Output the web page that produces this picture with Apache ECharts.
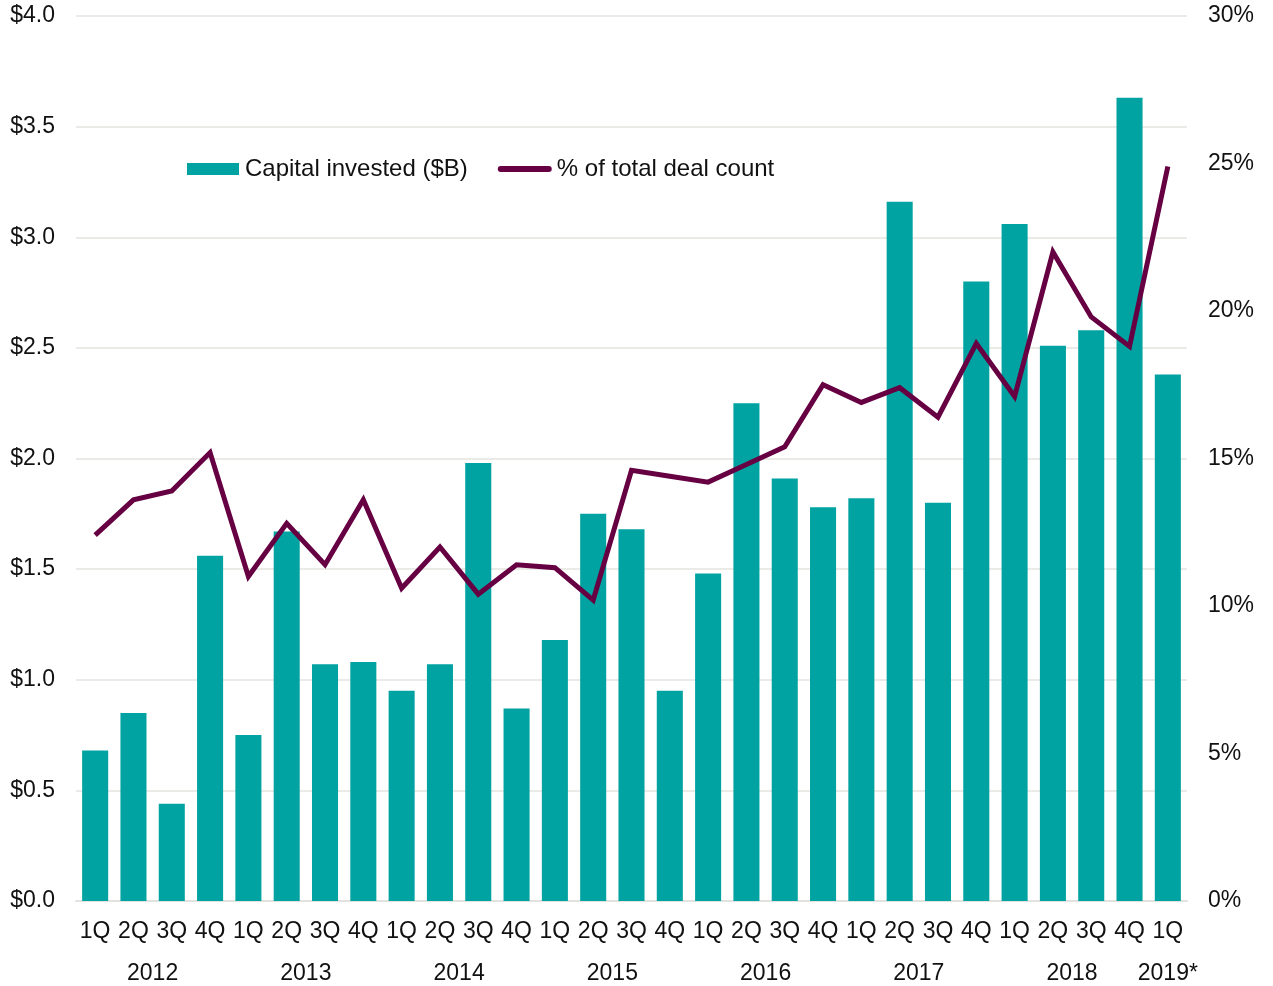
<!DOCTYPE html>
<html>
<head>
<meta charset="utf-8">
<title>Capital invested and share of deal count</title>
<script src="https://cdn.jsdelivr.net/npm/echarts@6/dist/echarts.min.js"></script>
<style>
  html, body { margin: 0; padding: 0; background: #ffffff; }
  #chart { width: 1273px; height: 986px; }
</style>
</head>
<body>
<div id="chart"></div>
<script>
// Quarterly labels, 1Q 2012 through 1Q 2019
const quarters = [
  '1Q','2Q','3Q','4Q', '1Q','2Q','3Q','4Q', '1Q','2Q','3Q','4Q',
  '1Q','2Q','3Q','4Q', '1Q','2Q','3Q','4Q', '1Q','2Q','3Q','4Q',
  '1Q','2Q','3Q','4Q', '1Q'
];

// Year groups and how many quarters each spans
const years = ['2012', '2013', '2014', '2015', '2016', '2017', '2018', '2019*'];
const quartersPerYear = [4, 4, 4, 4, 4, 4, 4, 1];

// Capital invested, $B
const capitalInvested = [
  0.68, 0.85, 0.44, 1.56, 0.75, 1.67, 1.07, 1.08, 0.95, 1.07, 1.98, 0.87,
  1.18, 1.75, 1.68, 0.95, 1.48, 2.25, 1.91, 1.78, 1.82, 3.16, 1.80, 2.80,
  3.06, 2.51, 2.58, 3.63, 2.38
];

// Share of total deal count, %
const dealCountShare = [
  12.4, 13.6, 13.9, 15.2, 11.0, 12.8, 11.4, 13.6, 10.6, 12.0, 10.4, 11.4,
  11.3, 10.2, 14.6, 14.4, 14.2, 14.8, 15.4, 17.5, 16.9, 17.4, 16.4, 18.9,
  17.1, 22.0, 19.8, 18.8, 24.9
];

// Left axis ticks ($B) and right axis ticks (%)
const leftTicks = { min: 0, max: 4, step: 0.5 };
const rightTicks = { min: 0, max: 30, step: 5 };

// Centre of each year group on a 0..N value scale spanning the categories
const yearCenters = [];
(function () {
  let start = 0;
  quartersPerYear.forEach(function (n) {
    yearCenters.push(start + n / 2);
    start += n;
  });
})();

const FONT = '"Liberation Sans", Arial, Helvetica, sans-serif';
const TEAL = '#00A3A1';
const PLUM = '#660042';
const TEXT = '#111111';
const AXIS_FONT_SIZE = 23;

const chart = echarts.init(document.getElementById('chart'), null, { renderer: 'canvas' });

chart.setOption({
  animation: false,
  backgroundColor: '#ffffff',
  textStyle: { fontFamily: FONT, color: TEXT },
  grid: { left: 76, right: 86, top: 16, bottom: 85, containLabel: false },
  legend: {
    left: 187,
    top: 157,
    padding: 0,
    itemWidth: 54,
    itemHeight: 12,
    itemGap: 30,
    textStyle: { fontFamily: FONT, fontSize: 24, color: TEXT },
    data: [
      { name: 'Capital invested ($B)', icon: 'path://M0,0 L52,0 L52,12 L0,12 Z' },
      { name: '% of total deal count', icon: 'path://M3,0 L51,0 A3,3 0 0 1 51,6 L3,6 A3,3 0 0 1 3,0 Z' }
    ]
  },
  xAxis: [
    {
      type: 'category',
      data: quarters,
      boundaryGap: true,
      axisLine: { show: true, lineStyle: { color: '#E2E2DE', width: 2 } },
      axisTick: { show: false },
      axisLabel: {
        interval: 0,
        margin: 19,
        fontFamily: FONT,
        fontSize: AXIS_FONT_SIZE,
        color: TEXT
      }
    },
    {
      type: 'value',
      position: 'bottom',
      min: 0,
      max: quarters.length,
      axisLine: { show: false },
      axisTick: { show: false },
      splitLine: { show: false },
      axisLabel: {
        customValues: yearCenters,
        margin: 61,
        fontFamily: FONT,
        fontSize: AXIS_FONT_SIZE,
        color: TEXT,
        formatter: function (v) {
          const i = yearCenters.indexOf(v);
          return i >= 0 ? years[i] : '';
        }
      }
    }
  ],
  yAxis: [
    {
      type: 'value',
      min: leftTicks.min,
      max: leftTicks.max,
      interval: leftTicks.step,
      axisLine: { show: false },
      axisTick: { show: false },
      splitLine: { show: true, lineStyle: { color: '#EAEAE6', width: 2 } },
      axisLabel: {
        margin: 21,
        fontFamily: FONT,
        fontSize: AXIS_FONT_SIZE,
        color: TEXT,
        formatter: function (v) { return '$' + v.toFixed(1); }
      }
    },
    {
      type: 'value',
      min: rightTicks.min,
      max: rightTicks.max,
      interval: rightTicks.step,
      position: 'right',
      axisLine: { show: false },
      axisTick: { show: false },
      splitLine: { show: false },
      axisLabel: {
        margin: 21,
        fontFamily: FONT,
        fontSize: AXIS_FONT_SIZE,
        color: TEXT,
        formatter: function (v) { return v + '%'; }
      }
    }
  ],
  series: [
    {
      name: 'Capital invested ($B)',
      type: 'bar',
      xAxisIndex: 0,
      yAxisIndex: 0,
      data: capitalInvested,
      barCategoryGap: '32%',
      itemStyle: { color: TEAL },
      z: 2
    },
    {
      name: '% of total deal count',
      type: 'line',
      xAxisIndex: 0,
      yAxisIndex: 1,
      data: dealCountShare,
      symbol: 'none',
      lineStyle: { color: PLUM, width: 5, join: 'miter' },
      itemStyle: { color: PLUM },
      z: 3
    }
  ]
});
</script>
</body>
</html>
